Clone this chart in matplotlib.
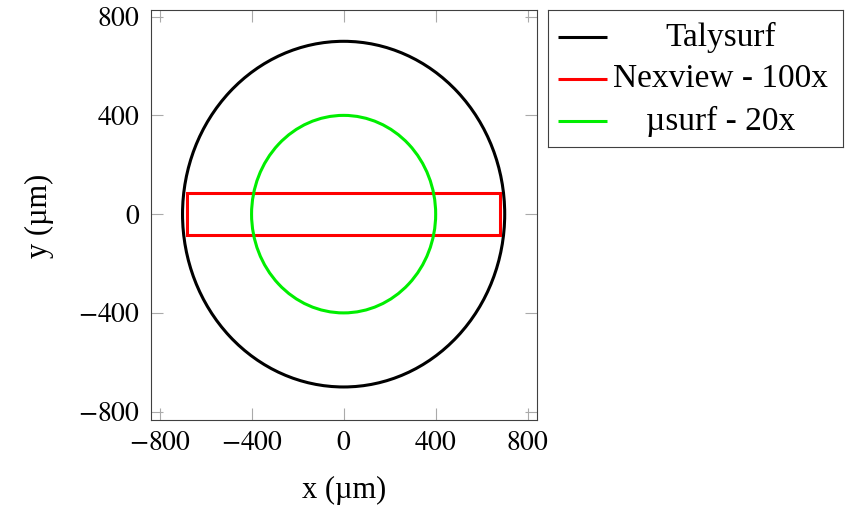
import matplotlib.pyplot as plt
from matplotlib.patches import Circle, Rectangle

# -------- DATA --------
labels = ["Talysurf", "Nexview - 100x", "µsurf - 20x"]
colors = ["black", "red", "#00ee00"]
talysurf_radius = 700
usurf_radius = 400
nexview_half_w = 680
nexview_half_h = 85
ticks = [-800, -400, 0, 400, 800]

plt.rcParams["font.family"] = ["Liberation Serif", "DejaVu Serif"]
plt.rcParams["mathtext.fontset"] = "stix"
plt.rcParams["font.size"] = 19

W, H = 848, 509
fig = plt.figure(figsize=(W / 100, H / 100), dpi=100)

# main axes (pixel box from reference)
ax = fig.add_axes([151 / W, (H - 420.3) / H, (536.7 - 151) / W, (420.3 - 9.7) / H])

lw = 2.2
ax.add_patch(Circle((0, 0), talysurf_radius, fill=False, ec=colors[0], lw=lw))
ax.add_patch(Rectangle((-nexview_half_w, -nexview_half_h), 2 * nexview_half_w,
                       2 * nexview_half_h, fill=False, ec=colors[1], lw=lw))
ax.add_patch(Circle((0, 0), usurf_radius, fill=False, ec=colors[2], lw=lw))

ax.set_xlim(-837, 839)
ax.set_ylim(-835, 828)
ax.set_xticks(ticks)
ax.set_yticks(ticks)
tick_labels = [f"${t}$" for t in ticks]
ax.set_xticklabels(tick_labels, fontsize=20)
ax.set_yticklabels(tick_labels, fontsize=20)
ax.tick_params(direction="in", length=8.5, width=0.8, color="#aaaaaa",
               top=True, right=True, pad=8)
for s in ax.spines.values():
    s.set_color("#404040")
    s.set_linewidth(0.8)

ax.set_xlabel("x (µm)", fontsize=22)
ax.set_ylabel("y (µm)", fontsize=22)
ax.xaxis.set_label_coords(0.5, -0.170)
ax.yaxis.set_label_coords(-0.288, 0.497)
ax.xaxis.label.set_va("center")
ax.yaxis.label.set_va("center")

# legend box drawn by hand so the labels can be centred like pgfplots
lax = fig.add_axes([548 / W, (H - 147) / H, (843 - 548) / W, (147 - 10) / H])
lax.set_xlim(0, 1)
lax.set_ylim(0, 1)
lax.set_xticks([])
lax.set_yticks([])
for s in lax.spines.values():
    s.set_color("#404040")
    s.set_linewidth(0.8)
rows = [0.803, 0.496, 0.19]
for lab, col, y in zip(labels, colors, rows):
    lax.plot([0.034, 0.2], [y, y], color=col, lw=lw, solid_capstyle="butt")
    lax.text(0.586, y, lab, ha="center", va="center", fontsize=24)

fig.savefig("out.png", dpi=100)
